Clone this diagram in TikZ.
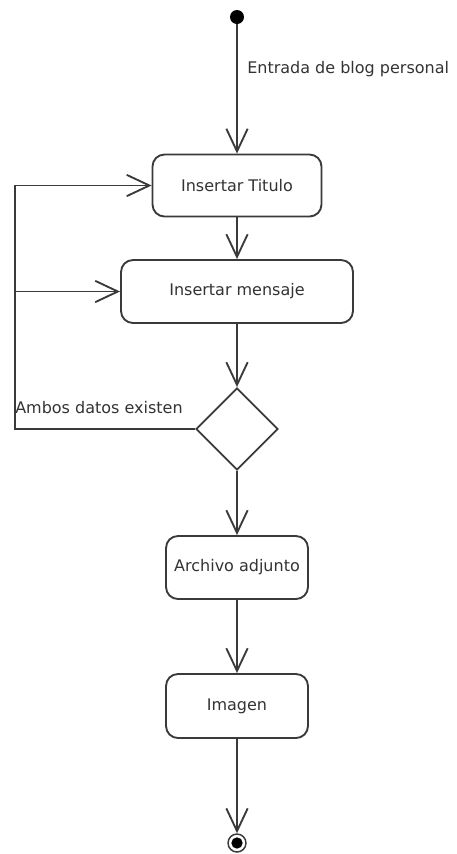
\documentclass[tikz,border=0pt]{standalone}
\usepackage{fontspec}
\setmainfont{DejaVu Sans}
\usetikzlibrary{arrows.meta,shapes.geometric}
\definecolor{ln}{HTML}{3A3A3A}
\definecolor{tx}{HTML}{333333}
\begin{document}
\begin{tikzpicture}[x=0.75pt,y=-0.75pt,
  act/.style={draw=ln,line width=1.4pt,rounded corners=9pt,fill=white,inner sep=0pt,
    font=\fontsize{12}{14}\selectfont,text=tx},
  flow/.style={draw=ln,line width=1.4pt,-{Straight Barb[length=17pt,width=16pt,line width=1.4pt]}},
  lbl/.style={font=\fontsize{12}{14}\selectfont,text=tx,inner sep=0pt}]
\useasboundingbox (0,0) rectangle (457,854);
\node[circle,fill=black,inner sep=0pt,minimum size=10.5pt] (start) at (237,17) {};
\node[act,minimum width=126.75pt,minimum height=46.5pt] (t) at (237,185.5) {Insertar Titulo};
\node[act,minimum width=174pt,minimum height=47.25pt] (m) at (237,291.5) {Insertar mensaje};
\node[diamond,draw=ln,line width=1.4pt,fill=white,inner sep=0pt,minimum width=61.5pt,minimum height=61.5pt] (d) at (237,429) {};
\node[act,minimum width=106.5pt,minimum height=47.25pt] (a) at (237,567.5) {Archivo adjunto};
\node[act,minimum width=106.5pt,minimum height=48pt] (i) at (237,706) {Imagen};
\node[circle,draw=ln,line width=1.1pt,inner sep=0pt,minimum size=13.5pt] (end) at (237,843) {};
\node[circle,fill=black,inner sep=0pt,minimum size=8.5pt] (endin) at (237,843) {};
\coordinate (lc) at (15,429);
\coordinate (lb) at (15,291.5);
\node[lbl,anchor=west] (l1) at (247,69) {Entrada de blog personal};
\node[lbl,anchor=west] (l2) at (15,408) {Ambos datos existen};
\draw[flow] (start) -- (t);
\draw[flow] (t) -- (m);
\draw[flow] (m) -- (d);
\draw[flow] (d) -- (a);
\draw[flow] (a) -- (i);
\draw[flow] (i) -- (end);
\draw[flow] (d.west) -- (lc) |- (t.west);
\draw[flow] (lb) -- (m.west);
\end{tikzpicture}
\end{document}
